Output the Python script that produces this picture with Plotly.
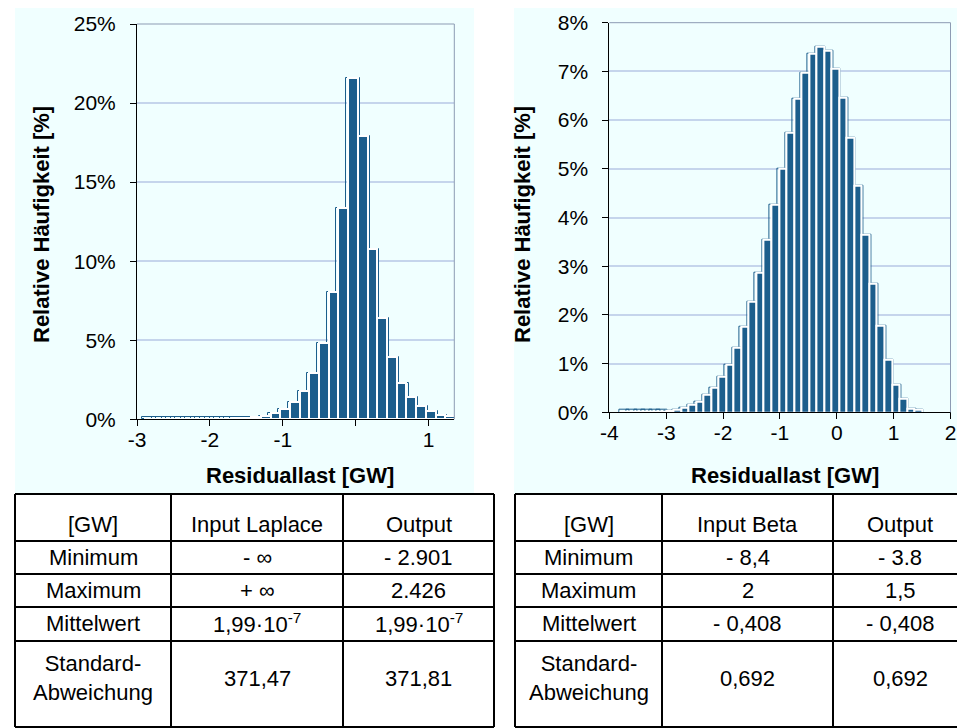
import plotly.graph_objects as go
from plotly.subplots import make_subplots

# the page adds an 8 px body margin, so the figure is drawn 8 px smaller and
# every position below is given in window pixels and shifted back by PAGE_PAD
PAGE_PAD = 8
FIG_W, FIG_H = 965 - PAGE_PAD, 728 - PAGE_PAD
FONT = "Liberation Sans, Arial, sans-serif"
BAR_BLUE = "#1C5E8C"
GRID_BLUE = "#C5D5EC"
FRAME_GREY = "#8D9BB3"
PANEL_BG = "#F0FFFF"

# left histogram (Laplace): classes of 0.1332 GW starting at -2.901 GW, values in %
left_start = -2.901
left_step = 0.1332
left_output = [0.02, 0.02, 0.02, 0.02, 0.02, 0.02, 0.02, 0.03, 0.04, 0.06, 0.08, 0.12,
               0.22, 0.40, 0.65, 1.08, 1.80, 2.90, 4.84, 8.02, 13.35, 21.60, 17.90, 10.75,
               6.43, 3.93, 2.32, 1.43, 0.82, 0.50, 0.30, 0.20]
left_input = [0.13, 0.13, 0.13, 0.13, 0.13, 0.13, 0.13, 0.13, 0.13, 0.13, 0.13, 0.12,
              0.22, 0.40, 0.65, 1.08, 1.80, 2.90, 4.84, 8.02, 13.35, 21.60, 17.90, 10.75,
              6.43, 3.93, 2.32, 1.43, 0.82, 0.50, 0.30, 0.20]
left_ticks = [-3, -2, -1, 1]
left_ticktext = ["-3", "-2", "-1", "1"]
left_unlabelled_ticks = [0]

# right histogram (Beta): classes of 0.1325 GW starting at -3.8 GW, values in %
right_start = -3.8
right_step = 0.1325
right_output = [0.01, 0.01, 0.01, 0.01, 0.01, 0.01, 0.03, 0.06, 0.10, 0.15,
                0.22, 0.36, 0.50, 0.73, 0.97, 1.33, 1.76, 2.27, 2.87, 3.54,
                4.26, 5.00, 5.75, 6.43, 6.97, 7.36, 7.51, 7.43, 7.06, 6.46,
                5.64, 4.66, 3.65, 2.64, 1.77, 1.07, 0.57, 0.28, 0.08, 0.06]
right_input = [0.06, 0.06, 0.06, 0.06, 0.06, 0.06, 0.04, 0.06, 0.10, 0.15,
               0.22, 0.36, 0.50, 0.73, 0.97, 1.33, 1.76, 2.27, 2.87, 3.54,
               4.26, 5.00, 5.75, 6.43, 6.97, 7.36, 7.51, 7.43, 7.06, 6.46,
               5.64, 4.66, 3.65, 2.64, 1.77, 1.07, 0.57, 0.28, 0.08, 0.06]
right_ticks = [-4, -3, -2, -1, 0, 1, 2]
right_ticktext = ["-4", "-3", "-2", "-1", "0", "1", "2"]

# tables below the charts
row_labels = ["[GW]", "Minimum", "Maximum", "Mittelwert", "Standard-<br>Abweichung"]
laplace_input = ["Input Laplace", "- ∞", "+ ∞", "1,99·10<sup>-7</sup>", "371,47"]
laplace_output = ["Output", "- 2.901", "2.426", "1,99·10<sup>-7</sup>", "371,81"]
beta_input = ["Input Beta", "- 8,4", "2", "- 0,408", "0,692"]
beta_output = ["Output", "- 3.8", "1,5", "- 0,408", "0,692"]


def px(x):
    return (x - PAGE_PAD) / FIG_W


def py(y):
    return 1 - (y - PAGE_PAD) / FIG_H


def centers(start, step, n):
    return [start + (i + 0.5) * step for i in range(n)]


fig = make_subplots(rows=1, cols=2)

for col, start, step, inp, out in [(1, left_start, left_step, left_input, left_output),
                                   (2, right_start, right_step, right_input, right_output)]:
    xs = centers(start, step, len(out))
    fig.add_trace(go.Bar(x=xs, y=inp, width=step * 1.42,
                         marker=dict(color="rgba(0,0,0,0)", line=dict(color=BAR_BLUE, width=1)),
                         showlegend=False, hoverinfo="skip"), row=1, col=col)
    fig.add_trace(go.Bar(x=xs, y=out, width=step,
                         marker=dict(color=BAR_BLUE, line=dict(color="white", width=2)),
                         showlegend=False), row=1, col=col)

tick_font = dict(family=FONT, size=21, color="black")
axis_common = dict(showline=True, linecolor="black", linewidth=1, ticks="outside",
                   ticklen=6, tickcolor="black", tickfont=tick_font,
                   zeroline=False, automargin=False)

fig.update_layout(
    width=FIG_W, height=FIG_H,
    margin=dict(l=0, r=0, t=0, b=0, autoexpand=False),
    paper_bgcolor="white", plot_bgcolor="rgba(0,0,0,0)",
    barmode="overlay", bargap=0,
    font=dict(family=FONT, color="black"),
    xaxis=dict(domain=[px(137), px(454.3)], range=[-3, 1.351],
               tickvals=left_ticks, ticktext=left_ticktext,
               minor=dict(tickvals=left_unlabelled_ticks, ticks="outside", ticklen=6,
                          tickcolor="black", showgrid=False),
               showgrid=False, ticklabelstandoff=-5, **axis_common),
    yaxis=dict(domain=[py(419.3), py(24)], range=[0, 25], dtick=5, ticksuffix="%",
               showgrid=True, gridcolor=GRID_BLUE, gridwidth=1.5, ticklabelstandoff=10,
               **axis_common),
    xaxis2=dict(domain=[px(609.4), px(950.5)], range=[-4, 2],
                tickvals=right_ticks, ticktext=right_ticktext,
                showgrid=False, ticklabelstandoff=-5, **axis_common),
    yaxis2=dict(domain=[py(412.3), py(22.7)], range=[0, 8], dtick=1, ticksuffix="%",
                showgrid=True, gridcolor=GRID_BLUE, gridwidth=1.5, ticklabelstandoff=10,
                **axis_common),
)

shapes = []
# light panels behind the charts
for x0, x1 in [(15, 474), (514, 966)]:
    shapes.append(dict(type="rect", xref="paper", yref="paper", x0=px(x0), x1=px(x1),
                       y0=py(494), y1=py(7), fillcolor=PANEL_BG, line=dict(width=0), layer="below"))
# grey frame on top and right of the plot areas
for xa, ya in [("x", "y"), ("x2", "y2")]:
    shapes.append(dict(type="line", xref=xa + " domain", yref=ya + " domain",
                       x0=0, x1=1, y0=1, y1=1, line=dict(color=FRAME_GREY, width=1)))
    shapes.append(dict(type="line", xref=xa + " domain", yref=ya + " domain",
                       x0=1, x1=1, y0=0, y1=1, line=dict(color=FRAME_GREY, width=1)))


def label(text, x, y, size, angle=0):
    return dict(text=text, xref="paper", yref="paper", x=px(x), y=py(y),
                xanchor="center", yanchor="middle", textangle=angle, showarrow=False,
                font=dict(family=FONT, size=size, color="black"))


annotations = []
for xc in [41, 522]:
    annotations.append(label("<b>Relative Häufigkeit [%]</b>", xc, 225, 22, angle=-90))
for xc in [300, 785]:
    annotations.append(label("<b>Residuallast [GW]</b>", xc, 475, 22))

# tables
row_edges = [494, 541, 574, 607, 641, 727]
row_text_y = [524, 557, 590, 623, 678]
for cols, col_in, col_out in [([15, 171, 343, 494], laplace_input, laplace_output),
                              ([515, 662, 833, 967], beta_input, beta_output)]:
    for y in row_edges:
        shapes.append(dict(type="line", xref="paper", yref="paper", x0=px(cols[0]), x1=px(cols[-1]),
                           y0=py(y), y1=py(y), line=dict(color="black", width=2)))
    for x in cols:
        shapes.append(dict(type="line", xref="paper", yref="paper", x0=px(x), x1=px(x),
                           y0=py(row_edges[0]), y1=py(row_edges[-1]), line=dict(color="black", width=2)))
    for r in range(len(row_labels)):
        for c, txt in enumerate([row_labels[r], col_in[r], col_out[r]]):
            annotations.append(label(txt, (cols[c] + cols[c + 1]) / 2, row_text_y[r], 22))

fig.update_layout(shapes=shapes, annotations=annotations)
fig.write_html("out.html")
